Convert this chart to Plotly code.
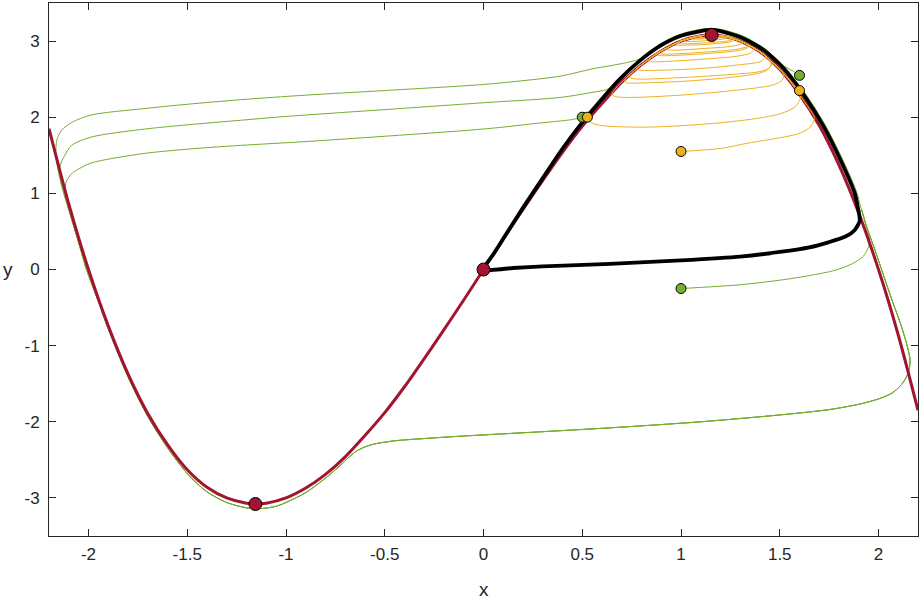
import plotly.graph_objects as go

# ---- critical curve (red) ----
red_x = [-2.2, -2.1, -2.0, -1.9, -1.8, -1.7, -1.6, -1.5, -1.4, -1.3, -1.2, -1.15, -1.1, -1.0,
         -0.9, -0.8, -0.7, -0.6, -0.5, -0.4, -0.3, -0.2, -0.1, 0.0, 0.1, 0.2, 0.3, 0.4, 0.5,
         0.6, 0.7, 0.8, 0.9, 1.0, 1.1, 1.15, 1.2, 1.3, 1.4, 1.5, 1.6, 1.7, 1.8, 1.9, 2.0, 2.1, 2.2]
red_y = [1.85, 0.86, 0.0, -0.74, -1.37, -1.89, -2.30, -2.63, -2.86, -3.00, -3.07, -3.08, -3.07, -3.00,
         -2.87, -2.69, -2.46, -2.18, -1.88, -1.54, -1.17, -0.79, -0.40, 0.0, 0.40, 0.79, 1.17, 1.54, 1.88,
         2.18, 2.46, 2.69, 2.87, 3.00, 3.07, 3.08, 3.07, 3.00, 2.86, 2.63, 2.30, 1.89, 1.37, 0.74, 0.0, -0.86, -1.85]

# ---- separatrix (black) ----
black = [(0.0, 0.0), (0.15, 0.02), (0.3, 0.04), (0.64, 0.075), (1.0, 0.12), (1.3, 0.17), (1.5, 0.23),
         (1.65, 0.29), (1.75, 0.36), (1.83, 0.43), (1.88, 0.52), (1.905, 0.64), (1.895, 0.82), (1.88, 1.0),
         (1.82, 1.37), (1.72, 1.89), (1.62, 2.30), (1.52, 2.64), (1.42, 2.88), (1.31, 3.04), (1.2, 3.13),
         (1.155, 3.15), (1.1, 3.13), (0.99, 3.06), (0.89, 2.93), (0.79, 2.74), (0.69, 2.50), (0.59, 2.21),
         (0.49, 1.90), (0.39, 1.55), (0.295, 1.18), (0.197, 0.80), (0.099, 0.40), (0.05, 0.2), (0.0, 0.0)]

# ---- green trajectories ----
green_descent = [(-2.09, 0.7), (-2.055, 0.4), (-2.01, 0.0), (-1.95, -0.42), (-1.9, -0.78), (-1.8, -1.41),
                 (-1.7, -1.93), (-1.6, -2.34), (-1.5, -2.68), (-1.4, -2.92), (-1.3, -3.06), (-1.2, -3.13),
                 (-1.13, -3.14), (-1.05, -3.11), (-1.0, -3.06), (-0.9, -2.93), (-0.8, -2.74), (-0.72, -2.56),
                 (-0.675, -2.45), (-0.64, -2.38), (-0.6, -2.33), (-0.55, -2.29), (-0.45, -2.25), (-0.3, -2.22),
                 (-0.12, -2.19), (0.3, -2.13), (0.7, -2.07), (1.1, -2.0), (1.5, -1.91), (1.75, -1.84),
                 (1.9, -1.77), (2.0, -1.7), (2.07, -1.62), (2.12, -1.5), (2.15, -1.36), (2.16, -1.2),
                 (2.145, -1.0), (2.11, -0.7), (2.075, -0.45), (2.035, -0.15), (2.0, 0.12), (1.965, 0.38),
                 (1.935, 0.6), (1.915, 0.78)]

green1 = [(1.0, -0.25), (1.3, -0.2), (1.5, -0.14), (1.65, -0.08), (1.78, -0.01), (1.87, 0.08), (1.925, 0.18),
          (1.95, 0.3), (1.955, 0.4), (1.94, 0.55), (1.925, 0.7), (1.907, 0.85), (1.892, 1.0), (1.832, 1.37),
          (1.732, 1.89), (1.632, 2.30), (1.532, 2.64), (1.432, 2.88), (1.315, 3.06), (1.2, 3.15), (1.155, 3.16),
          (1.1, 3.15), (0.99, 3.08), (0.89, 2.95), (0.8, 2.77), (0.72, 2.58), (0.67, 2.45), (0.65, 2.40),
          (0.62, 2.36), (0.56, 2.33), (0.39, 2.26), (0.0, 2.19), (-0.5, 2.1), (-1.0, 2.01), (-1.23, 1.96),
          (-1.5, 1.9), (-1.73, 1.84), (-1.985, 1.74), (-2.086, 1.63), (-2.12, 1.5), (-2.145, 1.35),
          (-2.14, 1.15), (-2.125, 1.0)]

green2 = [(0.5, 2.0), (0.45, 1.97), (0.35, 1.94), (0.27, 1.92), (0.1, 1.87), (-0.07, 1.83), (-0.5, 1.75),
          (-0.9, 1.68), (-1.23, 1.63), (-1.5, 1.58), (-1.73, 1.52), (-1.985, 1.40), (-2.05, 1.32),
          (-2.08, 1.27), (-2.11, 1.17), (-2.12, 1.04), (-2.105, 0.85)]

green3 = [(1.6, 2.55), (1.57, 2.6), (1.54, 2.645), (1.51, 2.69), (1.47, 2.78), (1.435, 2.88), (1.315, 3.065),
          (1.2, 3.155), (1.155, 3.165), (1.1, 3.155), (0.99, 3.085), (0.89, 2.955), (0.82, 2.80), (0.8, 2.77),
          (0.76, 2.74), (0.73, 2.72), (0.65, 2.68), (0.56, 2.64), (0.39, 2.54), (0.2, 2.48), (0.0, 2.43),
          (-0.5, 2.35), (-0.9, 2.29), (-1.23, 2.23), (-1.5, 2.17), (-1.73, 2.11), (-1.985, 2.03),
          (-2.086, 1.93), (-2.136, 1.83), (-2.16, 1.70), (-2.165, 1.5), (-2.15, 1.25), (-2.125, 1.0)]

# ---- orange trajectories (spiralling into the upper focus) ----
orange1 = [(1.0, 1.55), (1.2, 1.59), (1.34, 1.66), (1.5, 1.73), (1.59, 1.78), (1.645, 1.85), (1.67, 1.93),
           (1.675, 2.0), (1.65, 2.11), (1.6, 2.30), (1.55, 2.48), (1.5, 2.63), (1.45, 2.75), (1.4, 2.86),
           (1.3, 3.0), (1.2, 3.07), (1.155, 3.08), (1.1, 3.07), (1.0, 3.0), (0.9, 2.87), (0.8, 2.69),
           (0.75, 2.58), (0.72, 2.51), (0.715, 2.47), (0.73, 2.45), (0.8, 2.45), (1.0, 2.47), (1.2, 2.51),
           (1.36, 2.56), (1.43, 2.61), (1.455, 2.68), (1.45, 2.75), (1.4, 2.86), (1.35, 2.94), (1.3, 3.0),
           (1.2, 3.07), (1.155, 3.08), (1.1, 3.07), (1.0, 3.0), (0.9, 2.87), (0.85, 2.79), (0.835, 2.75),
           (0.85, 2.73), (0.9, 2.73), (1.1, 2.76), (1.28, 2.8), (1.35, 2.84), (1.37, 2.9), (1.3, 3.0),
           (1.2, 3.07), (1.155, 3.08), (1.1, 3.07), (1.0, 3.0), (0.95, 2.94), (0.93, 2.91), (0.93, 2.89),
           (0.96, 2.88), (1.1, 2.9), (1.25, 2.93), (1.31, 2.97), (1.3, 3.0), (1.25, 3.05), (1.2, 3.07),
           (1.155, 3.08), (1.1, 3.07), (1.05, 3.04), (1.02, 3.02), (1.02, 3.0), (1.1, 3.0), (1.22, 3.03),
           (1.24, 3.05), (1.2, 3.07), (1.155, 3.08), (1.1, 3.065), (1.1, 3.05), (1.18, 3.06), (1.155, 3.075)]

orange2 = [(0.526, 2.0), (0.545, 1.93), (0.6, 1.89), (0.83, 1.87), (1.17, 1.92), (1.4, 1.99), (1.508, 2.05),
           (1.575, 2.13), (1.6, 2.22), (1.605, 2.29), (1.58, 2.38), (1.55, 2.48), (1.5, 2.63), (1.45, 2.75),
           (1.4, 2.86), (1.3, 3.0), (1.2, 3.07), (1.155, 3.08), (1.1, 3.07), (1.0, 3.0), (0.9, 2.87),
           (0.8, 2.69), (0.7, 2.46), (0.66, 2.35), (0.65, 2.3), (0.67, 2.27), (0.75, 2.26), (1.0, 2.29),
           (1.3, 2.36), (1.46, 2.42), (1.51, 2.48), (1.52, 2.56), (1.5, 2.63), (1.45, 2.75), (1.4, 2.86),
           (1.3, 3.0), (1.2, 3.07), (1.155, 3.08), (1.1, 3.07), (1.0, 3.0), (0.9, 2.87), (0.8, 2.69),
           (0.75, 2.58), (0.735, 2.53), (0.75, 2.51), (0.8, 2.5), (1.0, 2.52), (1.25, 2.56), (1.4, 2.6),
           (1.45, 2.65), (1.46, 2.72), (1.4, 2.86), (1.3, 3.0), (1.2, 3.07), (1.155, 3.08), (1.1, 3.07),
           (1.0, 3.0), (0.9, 2.87), (0.87, 2.83), (0.89, 2.81), (0.95, 2.81), (1.15, 2.84), (1.3, 2.88),
           (1.345, 2.93), (1.3, 3.0), (1.2, 3.07), (1.155, 3.08), (1.1, 3.07), (1.0, 3.0), (0.97, 2.965),
           (0.965, 2.95), (1.0, 2.945), (1.15, 2.96), (1.26, 3.0), (1.27, 3.03), (1.2, 3.07), (1.155, 3.08),
           (1.1, 3.07), (1.05, 3.04), (1.05, 3.03), (1.15, 3.035), (1.22, 3.05), (1.2, 3.07), (1.155, 3.078)]

orange3 = [(1.6, 2.35), (1.57, 2.43), (1.55, 2.49), (1.5, 2.63), (1.45, 2.75), (1.4, 2.86), (1.3, 3.0),
           (1.2, 3.07), (1.155, 3.08), (1.1, 3.07), (1.0, 3.0), (0.9, 2.87), (0.8, 2.69), (0.775, 2.64),
           (0.79, 2.62), (0.85, 2.615), (1.1, 2.64), (1.3, 2.69), (1.4, 2.73), (1.43, 2.8), (1.4, 2.86),
           (1.3, 3.0), (1.2, 3.07), (1.155, 3.08), (1.1, 3.07), (1.0, 3.0), (0.9, 2.87), (0.885, 2.85),
           (0.9, 2.83), (0.95, 2.83), (1.15, 2.86), (1.3, 2.9), (1.34, 2.94), (1.3, 3.0), (1.2, 3.07),
           (1.155, 3.08), (1.1, 3.07), (1.0, 3.0), (0.98, 2.98), (0.98, 2.97), (1.02, 2.965), (1.15, 2.98),
           (1.25, 3.01), (1.26, 3.04), (1.2, 3.07), (1.155, 3.08), (1.1, 3.07), (1.06, 3.05), (1.08, 3.04),
           (1.17, 3.045), (1.21, 3.06), (1.155, 3.078)]

# ---- markers ----
eq_x = [-1.155, 0.0, 1.155]
eq_y = [-3.08, 0.0, 3.08]
green_start_x = [1.0, 0.5, 1.6]
green_start_y = [-0.25, 2.0, 2.55]
orange_start_x = [1.0, 0.526, 1.6]
orange_start_y = [1.55, 2.0, 2.35]

x_ticks = [-2, -1.5, -1, -0.5, 0, 0.5, 1, 1.5, 2]
x_tick_text = ["-2", "-1.5", "-1", "-0.5", "0", "0.5", "1", "1.5", "2"]
y_ticks = [-3, -2, -1, 0, 1, 2, 3]
y_tick_text = ["-3", "-2", "-1", "0", "1", "2", "3"]

RED = "#A2142F"
GREEN = "#77AC30"
ORANGE = "#EDB120"
AX = "#262626"

fig = go.Figure()


def add_path(pts, color, width, smoothing=0.8):
    xs = [p[0] for p in pts]
    ys = [p[1] for p in pts]
    fig.add_trace(go.Scatter(x=xs, y=ys, mode="lines",
                             line=dict(color=color, width=width, shape="spline", smoothing=smoothing),
                             hoverinfo="skip"))


for g in (green1, green2, green3):
    add_path(g + green_descent, GREEN, 1.0)

add_path(list(zip(red_x, red_y)), RED, 3.0)
add_path(black, "black", 3.8, smoothing=0.6)
for o in (orange1, orange2, orange3):
    add_path(o, ORANGE, 1.0)

fig.add_trace(go.Scatter(x=eq_x, y=eq_y, mode="markers", hoverinfo="skip",
                         marker=dict(size=13, color=RED, line=dict(color="black", width=1))))
fig.add_trace(go.Scatter(x=green_start_x, y=green_start_y, mode="markers", hoverinfo="skip",
                         marker=dict(size=10, color=GREEN, line=dict(color="black", width=1))))
fig.add_trace(go.Scatter(x=orange_start_x, y=orange_start_y, mode="markers", hoverinfo="skip",
                         marker=dict(size=10, color=ORANGE, line=dict(color="black", width=1))))

axis_common = dict(showgrid=False, zeroline=False, showline=True, linecolor=AX, linewidth=1,
                   mirror="ticks", ticks="inside", ticklen=7, tickcolor=AX, tickwidth=1,
                   automargin=False, tickfont=dict(size=17, color=AX))

fig.update_xaxes(range=[-2.2, 2.2], tickvals=x_ticks, ticktext=x_tick_text, ticklabelstandoff=3,
                 **axis_common)
fig.update_yaxes(range=[-3.5, 3.5], tickvals=y_ticks, ticktext=y_tick_text, ticklabelstandoff=5,
                 **axis_common)

fig.update_layout(
    width=921, height=599,
    margin=dict(l=49, r=3, t=3, b=63),
    plot_bgcolor="white", paper_bgcolor="white",
    showlegend=False,
    font=dict(family="Liberation Sans, Arial, sans-serif", size=17, color=AX),
    annotations=[
        dict(text="x", x=0.5, y=-0.101, xref="paper", yref="paper", showarrow=False,
             font=dict(size=19, color=AX), xanchor="center", yanchor="middle"),
        dict(text="y", x=-0.047, y=0.5, xref="paper", yref="paper", showarrow=False,
             font=dict(size=19, color=AX), xanchor="center", yanchor="middle"),
    ],
)

fig.write_html("out.html", config={"displayModeBar": False},
               post_script="document.body.style.margin='0';document.body.style.overflow='hidden';")
